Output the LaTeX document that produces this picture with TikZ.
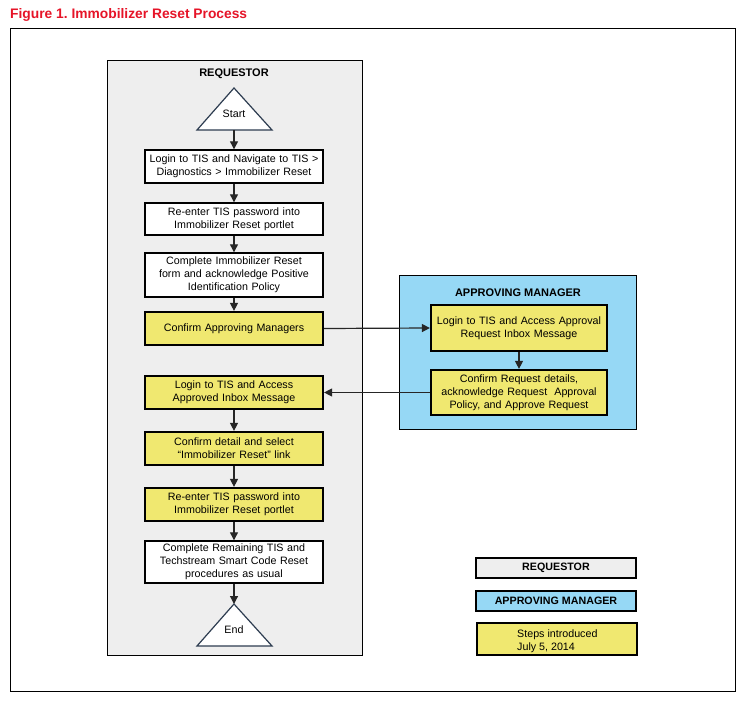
\documentclass[tikz,border=0pt]{standalone}
\usepackage{fontspec}
\setmainfont{Liberation Sans}
\usetikzlibrary{arrows.meta}
\frenchspacing
\definecolor{titlered}{RGB}{230,20,40}
\definecolor{reqgray}{RGB}{238,238,238}
\definecolor{amblue}{RGB}{150,216,245}
\definecolor{stepyellow}{RGB}{240,232,112}
\definecolor{triborder}{RGB}{45,60,80}
\tikzset{
  panel/.style={draw=black, line width=1pt},
  stepbox/.style={draw=black, line width=1.4pt, fill=white, minimum width=178pt, text width=176pt, align=center, inner sep=0pt, font=\fontsize{10.7}{13}\selectfont},
  newbox/.style={stepbox, fill=stepyellow, line width=2.2pt},
  ambox/.style={newbox, minimum width=176pt, text width=174pt},
  header/.style={font=\bfseries\fontsize{11}{12}\selectfont, inner sep=0pt},
  legbox/.style={draw=black, line width=1.4pt, minimum width=160pt, inner sep=0pt, font=\bfseries\fontsize{10.7}{12}\selectfont},
  flow/.style={draw=black!85, line width=1.2pt, -{Triangle[length=8pt,width=8pt]}},
  term/.style={draw=triborder, line width=1.2pt, fill=white},
  termtext/.style={font=\fontsize{10.7}{12}\selectfont, inner sep=0pt}
}
\begin{document}
\begin{tikzpicture}[x=1pt,y=-1pt]
\useasboundingbox (0,0) rectangle (745,701);
\fill[white] (0,0) rectangle (745,701);
\node[anchor=west, text=titlered, font=\bfseries\fontsize{13.8}{15}\selectfont, inner sep=0pt] (title) at (10,14.5) {Figure 1. Immobilizer Reset Process};
\draw[line width=1pt] (10,29) rectangle (735,691);
% requestor panel
\draw[panel, fill=reqgray] (107,61) rectangle (362,655);
\node[header] (reqhead) at (234,73.5) {REQUESTOR};
% approving manager panel
\draw[panel, fill=amblue] (399,275) rectangle (636,429);
\node[header] (amhead) at (518,292.5) {APPROVING MANAGER};
% start triangle
\draw[term] (234,88) -- (272,130) -- (197,130) -- cycle;
\node[termtext] (start) at (234,114) {Start};
\coordinate (startbase) at (234,130);
% requestor steps
\node[stepbox, minimum height=33pt] (b1) at (234,166.5) {Login to TIS and Navigate to TIS >\\Diagnostics > Immobilizer Reset};
\node[stepbox, minimum height=32pt] (b2) at (234,219) {Re-enter TIS password into\\Immobilizer Reset portlet};
\node[stepbox, minimum height=44pt] (b3) at (234,275) {Complete Immobilizer Reset\\form and acknowledge Positive\\Identification Policy};
\node[newbox, minimum height=33pt] (b4) at (234,328.5) {Confirm Approving Managers};
\node[newbox, minimum height=33pt] (b5) at (234,392.5) {Login to TIS and Access\\Approved Inbox Message};
\node[newbox, minimum height=33pt] (b6) at (234,448.5) {Confirm detail and select\\“Immobilizer Reset” link};
\node[newbox, minimum height=33pt] (b7) at (234,504.5) {Re-enter TIS password into\\Immobilizer Reset portlet};
\node[stepbox, minimum height=42pt] (b8) at (234,562) {Complete Remaining TIS and\\Techstream Smart Code Reset\\procedures as usual};
% end triangle
\draw[term] (234,604) -- (272,646) -- (197,646) -- cycle;
\node[termtext] (end) at (234,630) {End};
\coordinate (endapex) at (234,604);
% approving manager steps
\node[ambox, minimum height=46pt] (a1) at (519,328) {Login to TIS and Access Approval\\Request Inbox Message};
\node[ambox, minimum height=45pt] (a2) at (519,392.5) {Confirm Request details,\\acknowledge Request~ Approval\\Policy, and Approve Request};
% connectors
\draw[flow] (startbase) -- (b1.north);
\draw[flow] (b1) -- (b2);
\draw[flow] (b2) -- (b3);
\draw[flow] (b3) -- (b4);
\draw[flow] (b5) -- (b6);
\draw[flow] (b6) -- (b7);
\draw[flow] (b7) -- (b8);
\draw[flow] (b8.south) -- (endapex);
\draw[flow] (b4.east) -- (a1.west);
\draw[flow] (a1) -- (a2);
\draw[flow] (a2.west) -- (b5.east);
% legend
\node[legbox, fill=reqgray, minimum height=20pt] (leg1) at (556,568) {REQUESTOR};
\node[legbox, fill=amblue, minimum height=20pt] (leg2) at (556,601) {APPROVING MANAGER};
\node[legbox, fill=stepyellow, line width=2.2pt, minimum height=32pt] (leg3) at (557,639) {};
\node[anchor=west, align=left, inner sep=0pt, font=\fontsize{10.7}{13}\selectfont] (leg3text) at (517,641) {Steps introduced\\July 5, 2014};
\end{tikzpicture}
\end{document}
